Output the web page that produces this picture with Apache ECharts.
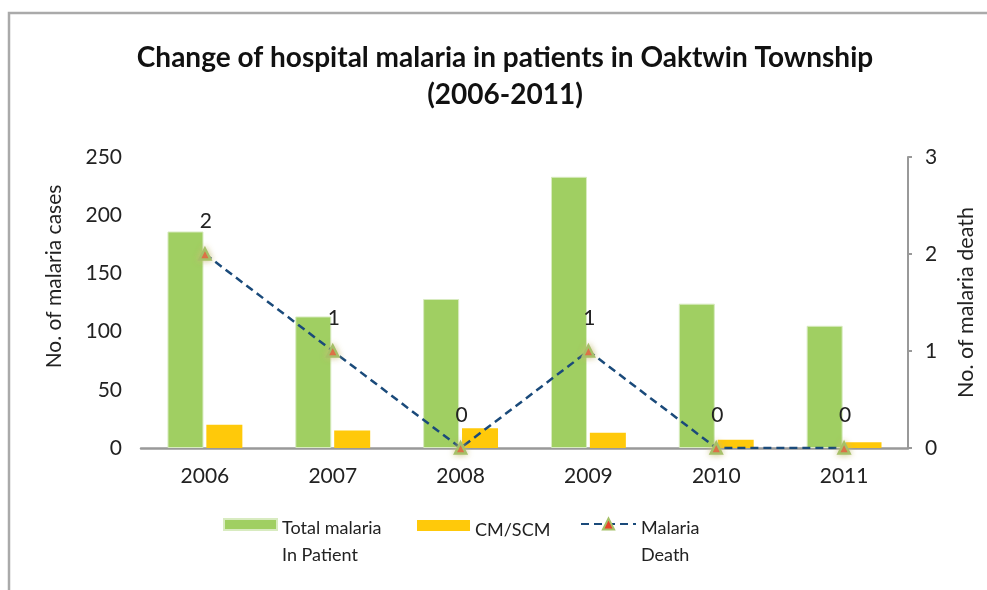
<!DOCTYPE html>
<html>
<head>
<meta charset="utf-8">
<script src="https://cdn.jsdelivr.net/npm/echarts@6/dist/echarts.min.js"></script>
<style>
  html, body { margin: 0; padding: 0; background: #fff; }
  #chart { width: 987px; height: 590px; }
</style>
</head>
<body>
<div id="chart"></div>
<script>
// Yearly hospital malaria figures
const years = ['2006', '2007', '2008', '2009', '2010', '2011'];
const totalInPatient = [186, 113, 128, 233, 124, 105];
const cmScm = [20, 15, 17, 13, 7, 5];
const malariaDeath = [2, 1, 0, 1, 0, 0];

const FONT = 'Lato';
const TEXT = '#222';

const chart = echarts.init(document.getElementById('chart'), null, { renderer: 'canvas' });

// Legend text: a blank spacer line on top pushes the first text line
// slightly below the icon's centre, as in the boxed Office-style legend.
function legendLabel(name) {
  const lines = name.split('\n');
  const spacer = lines.length > 1 ? '{s2| }' : '{s1| }';
  return spacer + '\n' + lines.map(l => '{t|' + l + '}').join('\n');
}

const legendBase = {
  orient: 'horizontal',
  padding: 0,
  itemWidth: 53,
  itemHeight: 11,
  itemGap: 6,
  formatter: legendLabel,
  textStyle: {
    fontFamily: FONT, fontSize: 18, color: TEXT,
    rich: {
      t: { fontFamily: FONT, fontSize: 18, color: TEXT, lineHeight: 27 },
      s1: { fontSize: 4, lineHeight: 10 },
      s2: { fontSize: 4, lineHeight: 35 }
    }
  }
};

chart.setOption({
  backgroundColor: '#fff',
  animation: false,
  title: {
    text: 'Change of hospital malaria in patients in Oaktwin Township\n(2006-2011)',
    left: 505,
    textAlign: 'center',
    top: 39,
    padding: 0,
    textStyle: { fontFamily: FONT, fontSize: 28, fontWeight: 'bold', color: '#111', lineHeight: 37 }
  },
  graphic: [{
    type: 'rect',
    shape: { x: 9, y: 13, width: 1000, height: 600 },
    style: { fill: 'none', stroke: '#aaa', lineWidth: 2.5 },
    silent: true
  }],
  legend: [
    Object.assign({}, legendBase, {
      left: 223, top: 495.5,
      data: [{ name: 'Total malaria\nIn Patient', icon: 'rect' }]
    }),
    Object.assign({}, legendBase, {
      left: 417, top: 510,
      data: [{ name: 'CM/SCM', icon: 'rect' }]
    }),
    Object.assign({}, legendBase, {
      left: 580, top: 495,
      itemWidth: 55,
      itemHeight: 14,
      data: [{ name: 'Malaria\nDeath' }]
    })
  ],
  grid: { left: 141, right: 79, top: 157, bottom: 142 },
  xAxis: {
    type: 'category',
    data: years,
    axisLine: { lineStyle: { color: '#999', width: 2.5 } },
    axisTick: { show: false },
    axisLabel: { fontFamily: FONT, fontSize: 21, color: TEXT, margin: 18 }
  },
  yAxis: [{
    type: 'value',
    min: 0, max: 250, interval: 50,
    name: 'No. of malaria cases',
    nameLocation: 'middle',
    nameRotate: 90,
    nameGap: 76,
    nameTextStyle: { fontFamily: FONT, fontSize: 21, color: TEXT, padding: [0, 0, 0, 52] },
    axisLine: { show: false },
    axisTick: { show: false },
    splitLine: { show: false },
    axisLabel: { fontFamily: FONT, fontSize: 21, color: TEXT, margin: 19 }
  }, {
    type: 'value',
    min: 0, max: 3, interval: 1,
    position: 'right',
    name: 'No. of malaria death',
    nameLocation: 'middle',
    nameRotate: 90,
    nameGap: 47,
    nameTextStyle: { fontFamily: FONT, fontSize: 21.5, color: TEXT },
    axisLine: { show: true, lineStyle: { color: '#999', width: 2 } },
    axisTick: { show: true, inside: false, length: 4, lineStyle: { color: '#999', width: 2 } },
    splitLine: { show: false },
    axisLabel: { fontFamily: FONT, fontSize: 21, color: TEXT, margin: 17 }
  }],
  series: [{
    name: 'Total malaria\nIn Patient',
    type: 'bar',
    data: totalInPatient,
    barWidth: 36,
    barGap: '8%',
    itemStyle: { color: '#A0CF62', borderColor: '#D8EBC0', borderWidth: 1 }
  }, {
    name: 'CM/SCM',
    type: 'bar',
    data: cmScm,
    barWidth: 36,
    barGap: '8%',
    itemStyle: { color: '#FFC90A' }
  }, {
    name: 'Malaria\nDeath',
    type: 'line',
    yAxisIndex: 1,
    data: malariaDeath,
    symbol: 'triangle',
    symbolSize: 11,
    z: 5,
    lineStyle: { color: '#1A4A7A', width: 2.5, type: [8, 5] },
    itemStyle: { color: '#E8432A', borderColor: '#A6C068', borderWidth: 2.5,
      shadowColor: 'rgba(200,190,120,0.8)', shadowBlur: 6 },
    label: {
      show: true,
      position: 'top',
      distance: 16,
      offset: [1, 0],
      fontFamily: FONT,
      fontSize: 21,
      color: TEXT
    }
  }]
});
</script>
</body>
</html>
